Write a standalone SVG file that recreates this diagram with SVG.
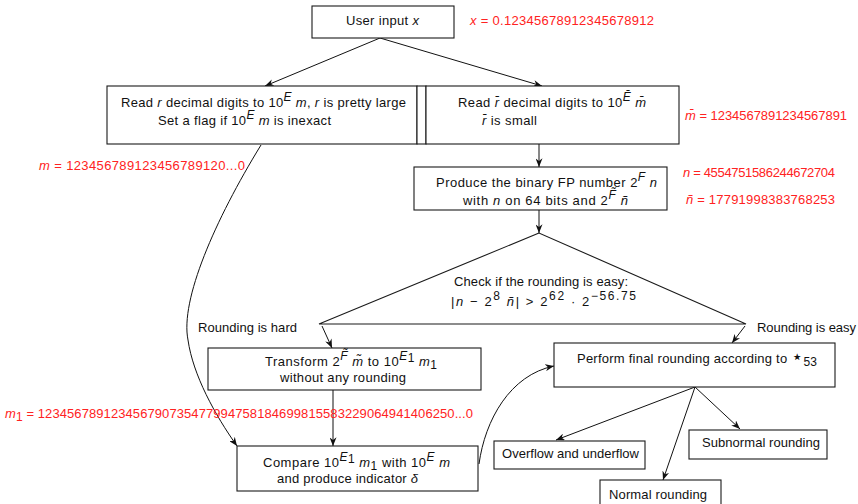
<svg xmlns="http://www.w3.org/2000/svg" width="858" height="504" viewBox="0 0 858 504">
<defs>
<style>
.t{font-family:"Liberation Sans","DejaVu Sans",sans-serif;font-size:13px;fill:#111}
.r{fill:#f22}
.i{font-style:italic}
.s{font-size:12px}
.box{fill:#fff;stroke:#1a1a1a;stroke-width:1.1}
.ln{fill:none;stroke:#111;stroke-width:1}
</style>
<marker id="ah" viewBox="0 0 10 8" refX="10" refY="4" markerWidth="9" markerHeight="7" orient="auto" markerUnits="userSpaceOnUse"><path d="M0,0 L10,4 L0,8 L3,4 z" fill="#111"/></marker>
</defs>
<rect width="858" height="504" fill="#fff"/>

<g id="connectors">
<line class="ln" x1="380" y1="38" x2="265" y2="86" marker-end="url(#ah)"/>
<line class="ln" x1="380" y1="38" x2="542" y2="86" marker-end="url(#ah)"/>
<line class="ln" x1="539" y1="144" x2="539" y2="167" marker-end="url(#ah)"/>
<line class="ln" x1="539" y1="210" x2="539" y2="233" marker-end="url(#ah)"/>
<line class="ln" x1="322" y1="326" x2="332" y2="348" marker-end="url(#ah)"/>
<line class="ln" x1="745" y1="326" x2="732" y2="343" marker-end="url(#ah)"/>
<line class="ln" x1="333" y1="390" x2="333" y2="446" marker-end="url(#ah)"/>
<path class="ln" d="M261,145 C215,220 180,300 188,340 C193,375 215,415 237,446" marker-end="url(#ah)"/>
<path class="ln" d="M479,464 C485,420 510,375 554,366" marker-end="url(#ah)"/>
<line class="ln" x1="695" y1="387" x2="556" y2="440" marker-end="url(#ah)"/>
<line class="ln" x1="695" y1="387" x2="663" y2="480" marker-end="url(#ah)"/>
<line class="ln" x1="695" y1="387" x2="740" y2="429" marker-end="url(#ah)"/>
</g>

<g id="user-input">
<rect class="box" x="312" y="6" width="142" height="32"/>
<text class="t" x="346" y="25" textLength="73">User input <tspan class="i">x</tspan></text>
</g>
<g id="label-x">
<text class="t r" x="470" y="25" textLength="184"><tspan class="i">x</tspan> = 0.12345678912345678912</text>
</g>

<g id="read-r">
<rect class="box" x="107" y="86" width="310" height="58"/>
<text class="t" x="121" y="107" textLength="285">Read <tspan class="i">r</tspan> decimal digits to 10<tspan class="i s" dy="-6">E</tspan><tspan dy="6"> </tspan><tspan class="i">m</tspan>, <tspan class="i">r</tspan> is pretty large</text>
<text class="t" x="158" y="125" textLength="173">Set a flag if 10<tspan class="i s" dy="-6">E</tspan><tspan dy="6"> </tspan><tspan class="i">m</tspan> is inexact</text>
</g>
<g id="separator">
<rect class="box" x="417" y="86" width="9" height="58"/>
</g>
<g id="read-rbar">
<rect class="box" x="426" y="86" width="253" height="58"/>
<text class="t" x="458" y="107" textLength="188">Read <tspan class="i">r̄</tspan> decimal digits to 10<tspan class="i s" dy="-6">Ē</tspan><tspan dy="6"> </tspan><tspan class="i">m̄</tspan></text>
<text class="t" x="482" y="125" textLength="55"><tspan class="i">r̄</tspan> is small</text>
</g>
<g id="label-mbar">
<text class="t r" x="685" y="120" textLength="162"><tspan class="i">m̄</tspan> = 1234567891234567891</text>
</g>
<g id="label-m">
<text class="t r" x="39" y="170" textLength="206"><tspan class="i">m</tspan> = 123456789123456789120...0</text>
</g>

<g id="produce">
<rect class="box" x="414" y="167" width="253" height="43"/>
<text class="t" x="436" y="187" textLength="221">Produce the binary FP number 2<tspan class="i s" dy="-6">F</tspan><tspan dy="6"> </tspan><tspan class="i">n</tspan></text>
<text class="t" x="463" y="205" textLength="165">with <tspan class="i">n</tspan> on 64 bits and 2<tspan class="i s" dy="-6">F̃</tspan><tspan dy="6"> </tspan><tspan class="i">ñ</tspan></text>
</g>
<g id="label-n">
<text class="t r" x="683" y="177" textLength="152"><tspan class="i">n</tspan> = 4554751586244672704</text>
<text class="t r" x="686" y="204" textLength="149"><tspan class="i">ñ</tspan> = 17791998383768253</text>
</g>

<g id="check">
<polygon class="box" points="539,233 319,324 746,324"/>
<text class="t" x="454" y="286" textLength="174">Check if the rounding is easy:</text>
<text class="t" x="451" y="306" textLength="185">|<tspan class="i">n</tspan> − 2<tspan class="s" dy="-6">8</tspan><tspan dy="6"> </tspan><tspan class="i">ñ</tspan>|  &gt;  2<tspan class="s" dy="-6">62</tspan><tspan dy="6"> · 2</tspan><tspan class="s" dy="-6">−56.75</tspan></text>
</g>
<g id="label-hard">
<text class="t" x="198" y="332" textLength="99">Rounding is hard</text>
</g>
<g id="label-easy">
<text class="t" x="757" y="332" textLength="99">Rounding is easy</text>
</g>

<g id="transform">
<rect class="box" x="208" y="348" width="273" height="42"/>
<text class="t" x="265" y="366" textLength="172">Transform 2<tspan class="i s" dy="-6">F̃</tspan><tspan dy="6"> </tspan><tspan class="i">m̃</tspan> to 10<tspan class="i s" dy="-6">E</tspan><tspan class="s" dy="2">1</tspan><tspan dy="4"> </tspan><tspan class="i">m</tspan><tspan class="s" dy="3">1</tspan></text>
<text class="t" x="280" y="382" textLength="126">without any rounding</text>
</g>
<g id="label-m1">
<text class="t r" x="5" y="418" textLength="468"><tspan class="i">m</tspan><tspan class="s" dy="3">1</tspan><tspan dy="-3"> = 123456789123456790735477994758184699815583229064941406250...0</tspan></text>
</g>

<g id="compare">
<rect class="box" x="237" y="446" width="241" height="45"/>
<text class="t" x="263" y="467" textLength="187">Compare 10<tspan class="i s" dy="-6">E</tspan><tspan class="s" dy="2">1</tspan><tspan dy="4"> </tspan><tspan class="i">m</tspan><tspan class="s" dy="3">1</tspan><tspan dy="-3"> with 10</tspan><tspan class="i s" dy="-6">E</tspan><tspan dy="6"> </tspan><tspan class="i">m</tspan></text>
<text class="t" x="277" y="483" textLength="141">and produce indicator <tspan class="i">δ</tspan></text>
</g>

<g id="perform">
<rect class="box" x="554" y="343" width="281" height="44"/>
<text class="t" x="577" y="363" textLength="240">Perform final rounding according to <tspan style="font-size:19px">⋆</tspan><tspan class="s" dy="3">53</tspan></text>
</g>
<g id="overflow">
<rect class="box" x="494" y="441" width="151" height="28"/>
<text class="t" x="502" y="458" textLength="137">Overflow and underflow</text>
</g>
<g id="subnormal">
<rect class="box" x="689" y="430" width="138" height="29"/>
<text class="t" x="702" y="447" textLength="118">Subnormal rounding</text>
</g>
<g id="normal">
<rect class="box" x="600" y="480" width="121" height="30"/>
<text class="t" x="609" y="499" textLength="98">Normal rounding</text>
</g>
</svg>
